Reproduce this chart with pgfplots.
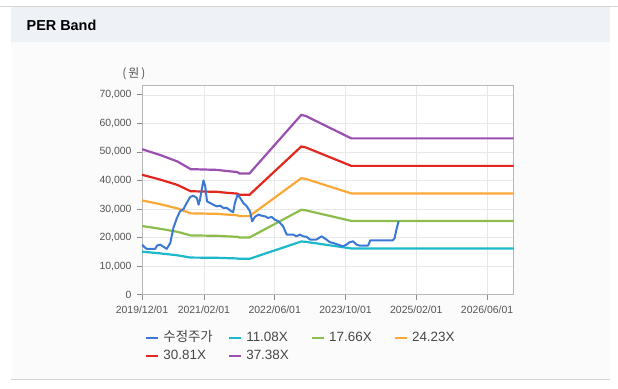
\documentclass[border=0pt]{standalone}
\usepackage{fontspec}
\setmainfont{Liberation Sans}
\newfontfamily\kr{Noto Sans CJK KR}
\usepackage{pgfplots}
\usepackage{pgfplotstable}
\pgfplotsset{compat=1.18}
\definecolor{cPrice}{HTML}{3A78D6}
\definecolor{c11}{HTML}{1CB9CC}
\definecolor{c17}{HTML}{8CBD4C}
\definecolor{c24}{HTML}{FAA836}
\definecolor{c30}{HTML}{E2271F}
\definecolor{c37}{HTML}{9B4FB1}
\definecolor{headbg}{HTML}{EEF2F7}
\definecolor{panelbg}{HTML}{FBFBFB}
\definecolor{lineg}{HTML}{D4D4D4}
\definecolor{ticktxt}{HTML}{555555}

\pgfplotstableread{
m     a      b      c      d      e
0     15113  24088  33050  42025  50986
4     14526  23152  31766  40392  49005
8     13839  22057  30263  38482  46688
10    13307  21210  29100  37003  44893
11    13041  20786  28519  36263  43996
17    12964  20662  28349  36048  43735
19    12853  20486  28107  35740  43361
21.5  12742  20309  27865  35432  42987
22    12598  20079  27550  35031  42501
24.3  12598  20079  27550  35031  42501
36    18670  29757  40828  51915  62985
37    18559  29581  40585  51607  62612
47.3  16232  25872  35497  45137  54762
84    16232  25872  35497  45137  54762
}\bands

\pgfplotstableread{
m     p
0     17580
0.75  16430
1.1   16080
3     16080
3.4   17230
4.1   17580
4.9   16780
5.6   16080
6.4   18170
7.1   23420
7.9   26910
8.6   29230
9.4   30050
10.1  32150
10.9  34250
11.6  34700
12.4  33900
12.8  31560
13.1  33300
13.5  36800
13.9  40050
14.3  37960
14.7  32720
15.4  32150
16.1  31560
16.9  30980
17.7  31210
18.4  30400
19.2  30400
19.9  29570
20.6  28870
21.0  32150
21.6  35060
22.2  33900
22.9  32150
23.7  30970
24.4  29230
24.9  25730
25.5  27260
26.3  28070
27.0  27720
27.8  27480
28.5  26910
29.3  27260
30.0  26320
30.8  25730
31.2  25170
31.9  23980
32.7  21080
34.2  21080
34.9  20480
35.7  21080
36.4  20480
37.2  20300
38.0  19330
39.4  19330
40.6  20480
41.7  19330
42.5  18390
43.2  18170
44.3  17580
45.4  16990
46.2  17580
46.9  18390
47.7  18740
48.5  17580
49.2  17230
51.1  17230
51.6  19100
56.7  19100
57.1  19920
57.5  22820
58.0  25730
}\price

\begin{document}
\begin{tikzpicture}[x=1bp,y=1bp]
\fill[white] (0,0) rectangle (618,389);
\fill[panelbg] (11,389-380) rectangle (610,389-42);
\fill[headbg] (11,389-42) rectangle (610,389-7);
\draw[lineg, line width=1bp] (0,389-6.5) -- (618,389-6.5);
\draw[lineg, line width=1bp] (11,389-380.5) -- (610,389-380.5);
\node[anchor=base west, inner sep=0pt] at (26,389-30.7) {\fontsize{14.5}{16}\selectfont\bfseries PER Band};
\node[ticktxt, inner sep=0pt] at (133.5,389-74) {\fontsize{12}{14}\selectfont\kr (\,원\,)};
\begin{axis}[
  at={(141.7bp,93.7bp)}, anchor=south west,
  scale only axis, width=372.3bp, height=209.3bp,
  xmin=0, xmax=84, ymin=0, ymax=73150,
  xtick={0,14,30,46,62,78},
  xticklabels={2019/12/01,2021/02/01,2022/06/01,2023/10/01,2025/02/01,2026/06/01},
  ytick={0,10000,20000,30000,40000,50000,60000,70000},
  scaled y ticks=false,
  yticklabel style={xshift=-2bp, /pgf/number format/.cd, fixed, 1000 sep={,}, assume math mode=true},
  ticklabel style={font=\fontsize{10.5}{12}\selectfont, text=ticktxt},
  xticklabel style={yshift=-2.5bp},
  tick align=outside, xtick pos=bottom, ytick pos=left,
  major tick length=5bp,
  tick style={draw=black!45, line width=0.8bp},
  axis line style={draw=black!28, line width=0.8bp},
  grid=major, grid style={draw=black!9, line width=0.7bp},
  axis background/.style={fill=white},
  legend image code/.code={\draw[#1, line width=2bp] (0bp,0bp) -- (12bp,0bp);},
  legend columns=4,
  legend style={draw=none, fill=none, inner sep=0pt, at={(axis description cs:0,0)}, anchor=north west, xshift=3.3bp, yshift=-36.2bp,
     nodes={inner sep=0pt, text height=10bp, text depth=3bp, font=\fontsize{13.5}{15}\selectfont, text=black!72},
     /tikz/every odd column/.append style={column sep=4bp},
     row sep=5bp},
  legend cell align=left,
]
\addlegendimage{cPrice}\addlegendentry{\makebox[65bp][l]{\kr 수정주가}}
\addlegendimage{c11}\addlegendentry{\makebox[65bp][l]{11.08X}}
\addlegendimage{c17}\addlegendentry{\makebox[65bp][l]{17.66X}}
\addlegendimage{c24}\addlegendentry{\makebox[65bp][l]{24.23X}}
\addlegendimage{c30}\addlegendentry{\makebox[65bp][l]{30.81X}}
\addlegendimage{c37}\addlegendentry{\makebox[65bp][l]{37.38X}}
\addplot[c11, line width=2.2bp, forget plot] table[x=m, y=a] {\bands};
\addplot[c17, line width=2.2bp, forget plot] table[x=m, y=b] {\bands};
\addplot[c24, line width=2.2bp, forget plot] table[x=m, y=c] {\bands};
\addplot[c30, line width=2.2bp, forget plot] table[x=m, y=d] {\bands};
\addplot[c37, line width=2.2bp, forget plot] table[x=m, y=e] {\bands};
\addplot[cPrice, line width=2bp, line join=round, forget plot] table[x=m, y=p] {\price};
\end{axis}
\end{tikzpicture}
\end{document}
